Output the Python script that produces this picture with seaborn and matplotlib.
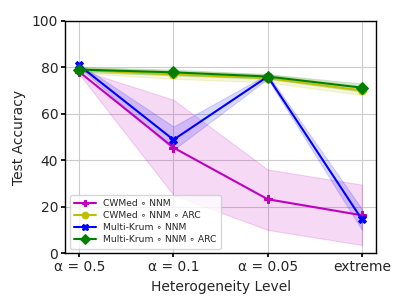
import numpy as np
import pandas as pd
import matplotlib
matplotlib.use("Agg")
import matplotlib.pyplot as plt
import seaborn as sns

levels = ["α = 0.5", "α = 0.1", "α = 0.05", "extreme"]
methods = ["CWMed ∘ NNM", "CWMed ∘ NNM ∘ ARC", "Multi-Krum ∘ NNM", "Multi-Krum ∘ NNM ∘ ARC"]
cwmed_nnm = [78.0, 45.4, 23.2, 16.3]
cwmed_nnm_lo = [77.0, 25.0, 10.0, 3.5]
cwmed_nnm_hi = [79.0, 66.0, 36.0, 29.5]
cwmed_arc = [78.8, 76.9, 75.3, 70.0]
cwmed_arc_lo = [77.5, 75.0, 73.5, 68.0]
cwmed_arc_hi = [80.0, 78.5, 77.0, 72.0]
krum_nnm = [80.8, 48.8, 76.0, 14.5]
krum_nnm_lo = [80.0, 44.5, 75.0, 10.0]
krum_nnm_hi = [81.5, 54.5, 77.0, 19.0]
krum_arc = [79.0, 77.8, 76.0, 71.2]
krum_arc_lo = [78.0, 76.5, 75.0, 69.5]
krum_arc_hi = [80.0, 79.0, 77.0, 73.0]

colors = ["#bf00bf", "#bfbf00", "#0000ff", "#008000"]
markers = ["P", "o", "X", "D"]

series = [(cwmed_nnm, cwmed_nnm_lo, cwmed_nnm_hi),
          (cwmed_arc, cwmed_arc_lo, cwmed_arc_hi),
          (krum_nnm, krum_nnm_lo, krum_nnm_hi),
          (krum_arc, krum_arc_lo, krum_arc_hi)]

rows = []
for m, (vals, lo, hi) in zip(methods, series):
    for i, v in enumerate(vals):
        rows.append({"x": i, "acc": v, "method": m})
df = pd.DataFrame(rows)

sns.set_theme(style="whitegrid")
plt.rcParams["font.family"] = ["DejaVu Sans"]
fig, ax = plt.subplots(figsize=(4.07, 3.05), dpi=100)

for m, (vals, lo, hi), c, mk in zip(methods, series, colors, markers):
    sub = df[df["method"] == m]
    sns.lineplot(data=sub, x="x", y="acc", color=c, marker=mk, markersize=6,
                 markeredgecolor=c, linewidth=1.5, label=m, ax=ax)
    ax.fill_between(range(len(levels)), lo, hi, color=c, alpha=0.15, linewidth=0.8, edgecolor=c)

ax.set_xticks(range(len(levels)))
ax.set_xticklabels(levels, fontsize=10)
ax.set_xlim(-0.15, 3.15)
ax.set_ylim(0, 100)
ax.set_yticks([0, 20, 40, 60, 80, 100])
ax.tick_params(axis="y", labelsize=10)
ax.set_xlabel("Heterogeneity Level", fontsize=10)
ax.set_ylabel("Test Accuracy", fontsize=10)
for s in ax.spines.values():
    s.set_color("black")
    s.set_linewidth(1.0)
ax.grid(True, color="#cccccc", linewidth=0.8)
ax.tick_params(axis="both", which="both", length=3, color="black", bottom=True, left=True, pad=2)
ax.legend(loc="lower left", fontsize=6.6, frameon=True, borderpad=0.45,
          labelspacing=0.35, handlelength=2.4, markerscale=0.8)
fig.subplots_adjust(left=0.160, right=0.924, top=0.932, bottom=0.170)
fig.savefig("out.png", dpi=100)
